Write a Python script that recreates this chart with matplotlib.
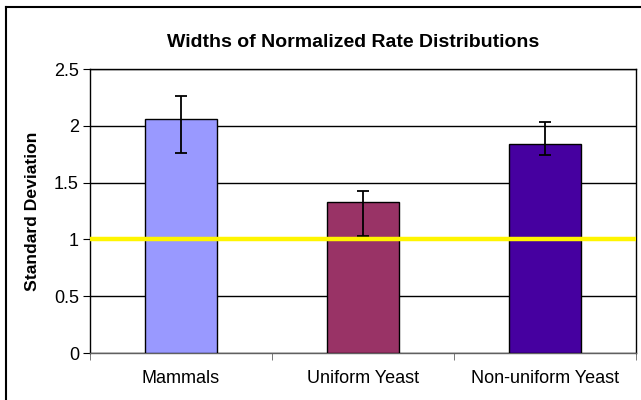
import matplotlib
matplotlib.use("Agg")
import matplotlib.pyplot as plt
import numpy as np

categories = ["Mammals", "Uniform Yeast", "Non-uniform Yeast"]
values = [2.06, 1.33, 1.84]
err_low = [0.30, 0.30, 0.10]
err_high = [0.20, 0.10, 0.19]
bar_colors = ["#9999FF", "#993366", "#4600A0"]
reference = 1.0
yticks = [0, 0.5, 1, 1.5, 2, 2.5]

plt.rcParams["font.family"] = ["Liberation Sans", "DejaVu Sans"]

fig = plt.figure(figsize=(6.41, 4.0), dpi=100)
ax = fig.add_axes([90 / 641, 47 / 400, 546 / 641, 284 / 400])

x = np.arange(len(categories))
ax.bar(x, values, width=0.4, color=bar_colors, edgecolor="black", linewidth=1, zorder=3)
ax.errorbar(x, values, yerr=[err_low, err_high], fmt="none", ecolor="black",
            elinewidth=1.3, capsize=4.5, capthick=1.3, zorder=4)
ax.axhline(reference, color="#FFF500", linewidth=3.2, zorder=5)

ax.set_xlim(-0.5, len(categories) - 0.5)
ax.set_ylim(0, 2.5)
ax.set_yticks(yticks)
ax.set_yticklabels(["0", "0.5", "1", "1.5", "2", "2.5"])
ax.yaxis.grid(True, color="black", linewidth=1, zorder=0)
ax.set_axisbelow(True)

ax.set_xticks(x)
ax.set_xticklabels(categories)
ax.set_xticks(np.arange(len(categories) + 1) - 0.5, minor=True)
ax.tick_params(axis="x", which="major", length=0, labelsize=13, pad=12)
ax.tick_params(axis="x", which="minor", length=5, color="#606060", direction="out")
ax.tick_params(axis="y", length=5, labelsize=13, pad=3)

for s in ax.spines.values():
    s.set_linewidth(1)
    s.set_color("black")
ax.spines["bottom"].set_color("#606060")

ax.set_ylabel("Standard Deviation", fontsize=12.6, fontweight="bold", labelpad=10)
ax.set_title("Widths of Normalized Rate Distributions", fontsize=14,
             fontweight="bold", pad=16, x=0.482)

# figure frame (left and top edges visible in the picture)
fig.add_artist(plt.Line2D([6 / 641, 6 / 641], [0, 393 / 400], color="black", linewidth=1.5))
fig.add_artist(plt.Line2D([6 / 641, 1], [393 / 400, 393 / 400], color="black", linewidth=1.5))

fig.savefig("out.png", dpi=100)
